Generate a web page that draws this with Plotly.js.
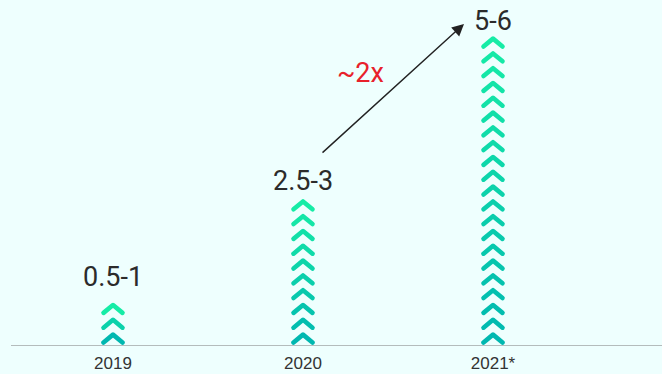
<!DOCTYPE html>
<html>
<head>
<meta charset="utf-8">
<script src="https://cdn.plot.ly/plotly-3.0.1.min.js"></script>
<style>
html,body{margin:0;padding:0;background:#eefffe;}
#chart{width:662px;height:374px;}
path.js-line{stroke-linecap:round !important;stroke-linejoin:round !important;}
</style>
</head>
<body>
<div id="chart"></div>
<script>
// Data
var categories = ['2019', '2020', '2021*'];
var chevronCounts = [3, 10, 21];
var valueLabels = ['0.5-1', '2.5-3', '5-6'];
var growthLabel = '~2x';

// Style
var BG = '#eefffe';
var PX_PER_CAT = 190;
var PX_PER_CHEV = 14.8;
var PLOT_H = 345, PLOT_L = 11, PLOT_W = 651;
var halfW = 9.5 / PX_PER_CAT;
var apexY = 0.7, legY = 0.17;
var bottomCol = [0, 184, 176], topCol = [22, 236, 166];
var labelShift = [24, 16, 13];

function mix(t) {
  var c = bottomCol.map(function (b, k) { return Math.round(b + (topCol[k] - b) * t); });
  return 'rgb(' + c.join(',') + ')';
}

var traces = [];
categories.forEach(function (cat, ci) {
  var n = chevronCounts[ci];
  for (var i = 0; i < n; i++) {
    var t = n > 1 ? i / (n - 1) : 1;
    traces.push({
      type: 'scatter', mode: 'lines',
      x: [ci - halfW, ci, ci + halfW],
      y: [i + legY, i + apexY, i + legY],
      line: {color: mix(t), width: 4.6},
      hoverinfo: 'skip', showlegend: false
    });
  }
});

var annotations = categories.map(function (cat, ci) {
  return {
    x: ci, y: chevronCounts[ci], xref: 'x', yref: 'y',
    text: valueLabels[ci], showarrow: false,
    yanchor: 'middle', yshift: labelShift[ci],
    font: {family: 'Roboto, sans-serif', size: 27, color: '#2b2b2b'}
  };
});

// growth arrow between 2020 and 2021 labels
var xr0 = -(113 - PLOT_L) / PX_PER_CAT;
var yOf = function (px) { return (PLOT_H - px) / PX_PER_CHEV; };
var xOf = function (px) { return (px - PLOT_L) / PX_PER_CAT + xr0; };
annotations.push({
  x: xOf(464), y: yOf(24), ax: xOf(321), ay: yOf(154),
  xref: 'x', yref: 'y', axref: 'x', ayref: 'y',
  showarrow: true, arrowhead: 2, arrowsize: 1.7, arrowwidth: 1.4,
  arrowcolor: '#222222', text: ''
});
annotations.push({
  x: xOf(360), y: yOf(73), xref: 'x', yref: 'y',
  text: growthLabel, showarrow: false,
  font: {family: 'Roboto, sans-serif', size: 27, color: '#e8212b'}
});

var layout = {
  width: 662, height: 374,
  margin: {l: PLOT_L, r: 0, t: 0, b: 374 - PLOT_H, pad: 0},
  paper_bgcolor: BG, plot_bgcolor: BG,
  xaxis: {
    range: [xr0, xr0 + PLOT_W / PX_PER_CAT],
    tickvals: [0, 1, 2], ticktext: categories,
    showgrid: false, zeroline: false, showline: true,
    linecolor: '#b4bcbc', linewidth: 1, ticks: '',
    ticklabelstandoff: 3,
    tickfont: {family: 'Liberation Sans, Arial, sans-serif', size: 17, color: '#333333'},
    fixedrange: true
  },
  yaxis: {
    range: [0, PLOT_H / PX_PER_CHEV],
    visible: false, showgrid: false, zeroline: false, fixedrange: true
  },
  annotations: annotations,
  showlegend: false
};

Plotly.newPlot('chart', traces, layout, {staticPlot: true, displayModeBar: false});
</script>
</body>
</html>
